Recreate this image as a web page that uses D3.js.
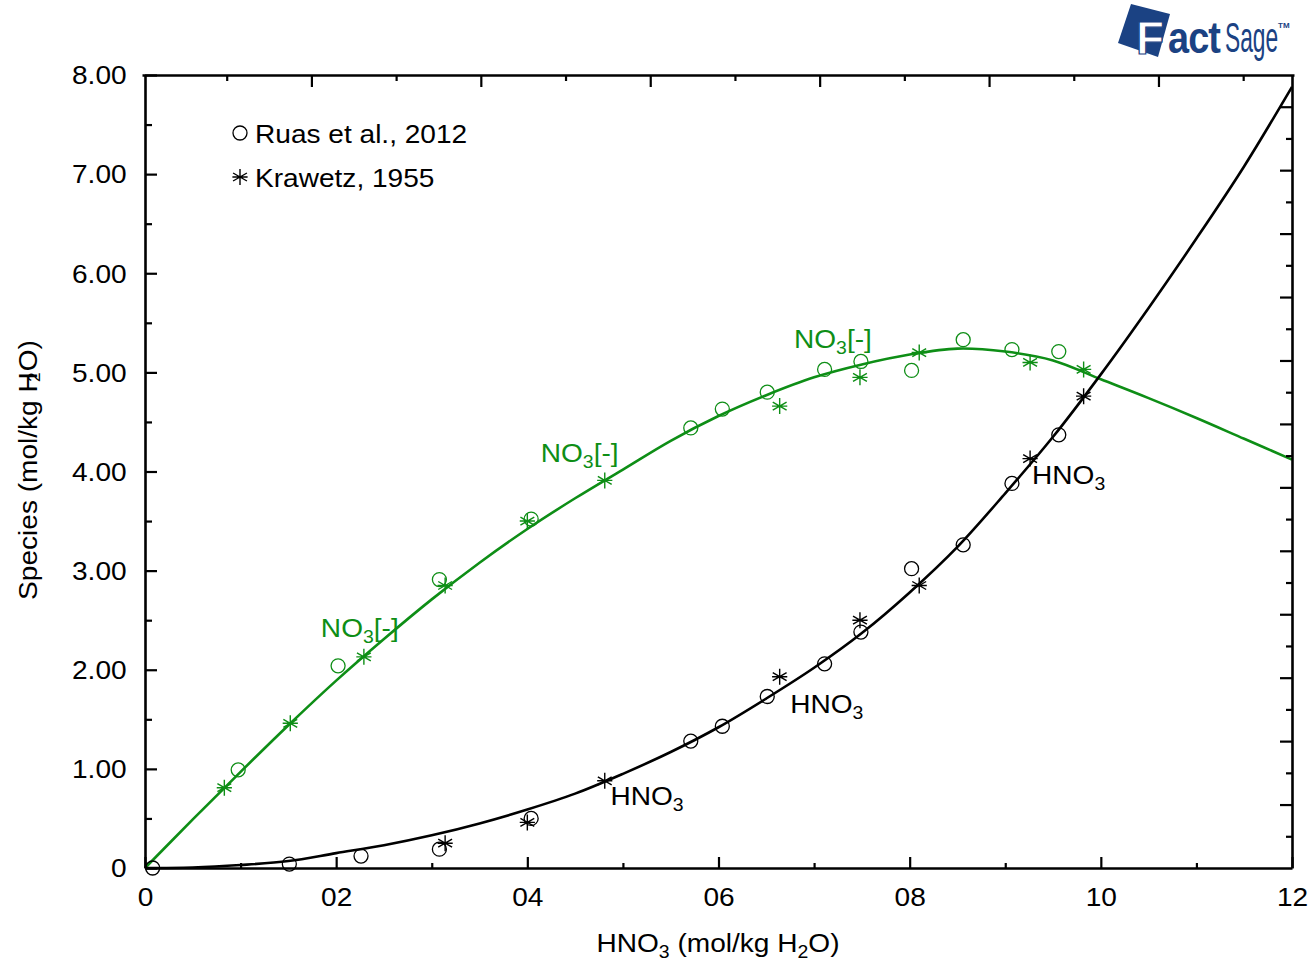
<!DOCTYPE html>
<html>
<head>
<meta charset="utf-8">
<script src="https://cdn.jsdelivr.net/npm/d3@7"></script>
<style>
  html, body { margin: 0; padding: 0; background: #fff; }
  svg { display: block; font-family: "Liberation Sans", Arial, sans-serif; }
</style>
</head>
<body>
<svg id="chart" width="1312" height="965"></svg>
<script>
// ---- Data (mol/kg H2O) ----
// Calculated speciation curves
const curveX     = [0, 0.5, 1, 1.5, 2, 2.5, 3, 3.5, 4, 4.5, 5, 5.5, 6, 6.5, 7, 7.5, 8, 8.5, 9, 9.5, 10, 10.5, 11, 11.5, 12];
const curveNO3   = [0, 0.49, 0.97, 1.44, 1.89, 2.31, 2.71, 3.08, 3.42, 3.73, 4.02, 4.31, 4.56, 4.77, 4.95, 5.08, 5.18, 5.24, 5.21, 5.12, 4.93, 4.74, 4.54, 4.33, 4.12];
const curveHNO3  = [0, 0.005, 0.03, 0.07, 0.15, 0.23, 0.33, 0.45, 0.59, 0.75, 0.95, 1.17, 1.42, 1.71, 2.02, 2.37, 2.78, 3.24, 3.78, 4.35, 4.98, 5.65, 6.35, 7.08, 7.88];

// Ruas et al., 2012 (circles)
const ruasNO3X   = [0.975, 2.02, 3.08, 4.04, 5.71, 6.04, 6.51, 7.11, 7.49, 8.02, 8.56, 9.07, 9.56];
const ruasNO3Y   = [0.99, 2.04, 2.91, 3.52, 4.44, 4.63, 4.80, 5.03, 5.11, 5.02, 5.33, 5.23, 5.21];
const ruasHNO3X  = [0.08, 1.51, 2.26, 3.08, 4.04, 5.71, 6.04, 6.51, 7.11, 7.49, 8.02, 8.56, 9.07, 9.56];
const ruasHNO3Y  = [0.0, 0.04, 0.12, 0.19, 0.50, 1.28, 1.43, 1.73, 2.06, 2.38, 3.02, 3.26, 3.88, 4.37];

// Krawetz, 1955 (asterisks)
const krawNO3X   = [0.83, 1.52, 2.29, 3.14, 4.00, 4.81, 6.64, 7.48, 8.10, 9.26, 9.82];
const krawNO3Y   = [0.81, 1.46, 2.13, 2.85, 3.50, 3.91, 4.66, 4.95, 5.20, 5.10, 5.03];
const krawHNO3X  = [3.14, 4.00, 4.81, 6.64, 7.48, 8.10, 9.26, 9.82];
const krawHNO3Y  = [0.25, 0.46, 0.88, 1.93, 2.50, 2.85, 4.13, 4.76];

// Axis ticks
const xTickValues = [0, 2, 4, 6, 8, 10, 12];
const xTickLabels = ["0", "02", "04", "06", "08", "10", "12"];
const yTickValues = [0, 1, 2, 3, 4, 5, 6, 7, 8];
const yTickLabels = ["0", "1.00", "2.00", "3.00", "4.00", "5.00", "6.00", "7.00", "8.00"];

// Curve labels: [x, y] anchor in data units
const no3Labels  = [[1.84, 2.33], [4.14, 4.10], [6.79, 5.25]];
const hno3Labels = [[4.87, 0.64], [6.75, 1.56], [9.28, 3.87]];

// ---- Layout ----
const GREEN = "#0e8e16";
const BLACK = "#000";
const NAVY = "#1b4283";
const FS = 26;      // base font size
const SX = 1.08;    // horizontal stretch of the lettering

const svg = d3.select("#chart");
const L = 145, R = 1292, T = 75, B = 868;

const x = d3.scaleLinear().domain([0, 12]).range([L, R]);
const y = d3.scaleLinear().domain([0, 8]).range([B, T]);

// helper: text with stretched glyphs
function stretchedText(g, px, py, opts) {
  const gg = g.append("g").attr("transform", `translate(${px},${py}) scale(${SX},1)`);
  const t = gg.append("text")
    .attr("font-size", opts.size || FS)
    .attr("fill", opts.fill || "#000")
    .attr("text-anchor", opts.anchor || "start");
  return t;
}

// ---- Curves ----
const lineGen = (ys) => d3.line()
  .x((d, i) => x(curveX[i]))
  .y((d, i) => y(ys[i]))
  .curve(d3.curveCatmullRom.alpha(0.5));

svg.append("path").datum(curveNO3)
  .attr("d", lineGen(curveNO3))
  .attr("fill", "none").attr("stroke", GREEN).attr("stroke-width", 2.6);

svg.append("path").datum(curveHNO3)
  .attr("d", lineGen(curveHNO3))
  .attr("fill", "none").attr("stroke", BLACK).attr("stroke-width", 2.6);

// ---- Markers ----
function circles(xs, ys, color) {
  svg.append("g").selectAll("circle")
    .data(xs.map((v, i) => [v, ys[i]]))
    .join("circle")
    .attr("cx", d => x(d[0])).attr("cy", d => y(d[1]))
    .attr("r", 7)
    .attr("fill", "none").attr("stroke", color).attr("stroke-width", 1.3);
}
const starPath = (() => {
  const r = 8, p = [];
  for (let k = 0; k < 3; k++) {
    const a = Math.PI / 2 + k * Math.PI / 3;
    const dx = r * Math.cos(a), dy = r * Math.sin(a);
    p.push(`M${-dx},${-dy}L${dx},${dy}`);
  }
  p.push(`M${-r * 0.95},0L${r * 0.95},0`);
  return p.join("");
})();
function stars(xs, ys, color) {
  svg.append("g").selectAll("path")
    .data(xs.map((v, i) => [v, ys[i]]))
    .join("path")
    .attr("transform", d => `translate(${x(d[0])},${y(d[1])})`)
    .attr("d", starPath)
    .attr("fill", "none").attr("stroke", color).attr("stroke-width", 1.4);
}
circles(ruasNO3X, ruasNO3Y, GREEN);
circles(ruasHNO3X, ruasHNO3Y, BLACK);
stars(krawNO3X, krawNO3Y, GREEN);
stars(krawHNO3X, krawHNO3Y, BLACK);

// ---- Curve labels ----
function speciesLabel(pos, main, sub, rest, color) {
  const t = stretchedText(svg, x(pos[0]), y(pos[1]), { fill: color });
  t.append("tspan").text(main);
  t.append("tspan").attr("font-size", 18).attr("dy", 6).text(sub);
  if (rest) t.append("tspan").attr("dy", -6).text(rest);
}
no3Labels.forEach(p => speciesLabel(p, "NO", "3", "[-]", GREEN));
hno3Labels.forEach(p => speciesLabel(p, "HNO", "3", "", BLACK));

// ---- Axes ----
const axisG = svg.append("g");

// bottom axis, ticks inward
const bottom = axisG.append("g").attr("transform", `translate(0,${B})`)
  .call(d3.axisBottom(x).tickValues(xTickValues)
    .tickFormat((d, i) => xTickLabels[i]).tickSizeInner(-11).tickSizeOuter(0).tickPadding(20));
bottom.append("g")
  .call(d3.axisBottom(x).tickValues(d3.range(1, 12, 2)).tickFormat("").tickSizeInner(-5).tickSizeOuter(0))
  .select(".domain").remove();

// left axis, ticks inward
const left = axisG.append("g").attr("transform", `translate(${L},0)`)
  .call(d3.axisLeft(y).tickValues(yTickValues)
    .tickFormat((d, i) => yTickLabels[i]).tickSizeInner(-12).tickSizeOuter(0).tickPadding(17));
left.append("g")
  .call(d3.axisLeft(y).tickValues(d3.range(0.5, 8, 1)).tickFormat("").tickSizeInner(-7).tickSizeOuter(0))
  .select(".domain").remove();

// top axis (secondary scale), ticks inward
const xTop = d3.scaleLinear().domain([0, 13.6]).range([L - 3, R + 2]);
const topAx = axisG.append("g").attr("transform", `translate(0,${T})`);
topAx.call(d3.axisTop(xTop).tickValues(d3.range(2, 14, 2)).tickFormat("").tickSizeInner(-12).tickSizeOuter(0));
topAx.append("g")
  .call(d3.axisTop(xTop).tickValues(d3.range(1, 14, 2)).tickFormat("").tickSizeInner(-6).tickSizeOuter(0))
  .select(".domain").remove();

// right axis (secondary scale), ticks inward
const yRight = d3.scaleLinear().domain([0, 25]).range([B, T]);
const rightAx = axisG.append("g").attr("transform", `translate(${R},0)`);
rightAx.call(d3.axisRight(yRight).tickValues(d3.range(2, 26, 2)).tickFormat("").tickSizeInner(-12).tickSizeOuter(0));
rightAx.append("g")
  .call(d3.axisRight(yRight).tickValues(d3.range(1, 25, 2)).tickFormat("").tickSizeInner(-6).tickSizeOuter(0))
  .select(".domain").remove();

axisG.selectAll(".domain").attr("stroke", "#000").attr("stroke-width", 2.6);
axisG.selectAll(".tick line").attr("stroke", "#000").attr("stroke-width", 2.2);
axisG.selectAll(".tick text")
  .attr("font-size", FS).attr("fill", "#000")
  .attr("font-family", "'Liberation Sans', Arial, sans-serif")
  .attr("transform", `scale(${SX},1)`);
left.selectAll(".tick text").attr("dy", "0.34em");

// ---- Axis titles ----
{
  const t = stretchedText(svg, 718, 952, { anchor: "middle" });
  t.append("tspan").text("HNO");
  t.append("tspan").attr("font-size", 18).attr("dy", 6).text("3");
  t.append("tspan").attr("dy", -6).text(" (mol/kg H");
  t.append("tspan").attr("font-size", 18).attr("dy", 6).text("2");
  t.append("tspan").attr("dy", -6).text("O)");
}
{
  const gg = svg.append("g").attr("transform", `translate(37,470) rotate(-90) scale(${SX},1)`);
  const t = gg.append("text").attr("font-size", FS).attr("text-anchor", "middle").attr("fill", "#000");
  t.append("tspan").text("Species (mol/kg H");
  t.append("tspan").attr("font-size", 16).attr("dx", -9).attr("dy", 3).text("2");
  t.append("tspan").attr("dx", 1).attr("dy", -3).text("O)");
}

// ---- Legend ----
{
  const lg = svg.append("g");
  lg.append("circle").attr("cx", 240).attr("cy", 133).attr("r", 7)
    .attr("fill", "none").attr("stroke", "#000").attr("stroke-width", 1.3);
  lg.append("path").attr("transform", "translate(240,177)").attr("d", starPath)
    .attr("fill", "none").attr("stroke", "#000").attr("stroke-width", 1.4);
  stretchedText(lg, 255, 143, {}).text("Ruas et al., 2012");
  stretchedText(lg, 255, 187, {}).text("Krawetz, 1955");
}

// ---- FactSage mark ----
{
  const lg = svg.append("g");
  lg.append("path").attr("d", "M1131,4 L1170,14 L1158,57 L1118,43 Z").attr("fill", NAVY);
  lg.append("text").attr("x", 1136).attr("y", 54)
    .attr("font-size", 46).attr("font-weight", "bold")
    .attr("fill", "#fff").attr("stroke", NAVY).attr("stroke-width", 1.2).text("F");
  lg.append("g").attr("transform", "translate(1168,53) scale(0.86,1)")
    .append("text").attr("font-size", 44).attr("font-weight", "bold").attr("fill", NAVY)
    .attr("letter-spacing", -1).text("act");
  lg.append("g").attr("transform", "translate(1225,52) scale(0.53,1)")
    .append("text").attr("font-size", 43).attr("fill", NAVY).text("Sage");
  lg.append("text").attr("x", 1278).attr("y", 28).attr("font-size", 8).attr("font-weight", "bold")
    .attr("fill", NAVY).text("TM");
}
</script>
</body>
</html>
